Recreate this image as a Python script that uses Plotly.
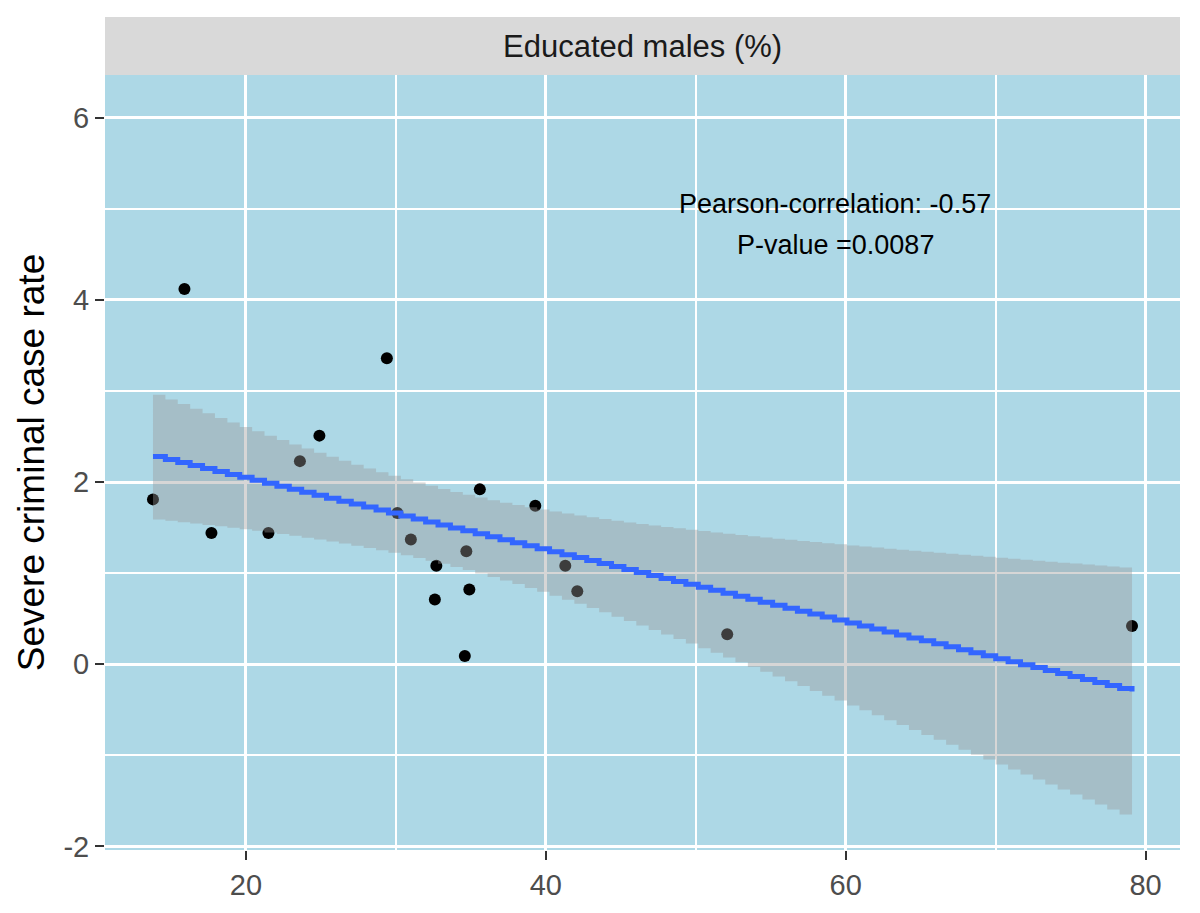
import numpy as np
import plotly.graph_objects as go

# educated males (%) vs severe criminal case rate
educated_pct = [13.8, 15.9, 17.7, 21.5, 23.6, 24.9, 29.4, 30.1, 31.0, 32.6,
                32.7, 34.6, 34.7, 34.9, 35.6, 39.3, 41.3, 42.1, 52.1, 79.1]
crime_rate = [1.81, 4.12, 1.44, 1.44, 2.23, 2.51, 3.36, 1.66, 1.37, 0.71,
              1.08, 0.09, 1.24, 0.82, 1.92, 1.74, 1.08, 0.80, 0.33, 0.42]

x_ticks = [20, 40, 60, 80]
y_ticks = [-2, 0, 2, 4, 6]
y_tick_labels = ["-2", "0", "2", "4", "6"]

x = np.array(educated_pct)
y = np.array(crime_rate)
n = len(x)

# linear fit with 95% confidence band (like geom_smooth(method="lm"))
slope, intercept = np.polyfit(x, y, 1)
resid = y - (slope * x + intercept)
s = np.sqrt(np.sum(resid ** 2) / (n - 2))
t_crit = 2.100922  # t(0.975, df=18)
xs = np.linspace(x.min(), x.max(), 80)
ys = slope * xs + intercept
se = s * np.sqrt(1 / n + (xs - x.mean()) ** 2 / np.sum((x - x.mean()) ** 2))
upper = ys + t_crit * se
lower = ys - t_crit * se

fig = go.Figure()

fig.add_trace(go.Scatter(
    x=educated_pct, y=crime_rate, mode="markers",
    marker=dict(color="black", size=12),
    showlegend=False, hoverinfo="x+y",
))

fig.add_trace(go.Scatter(
    x=np.concatenate([xs, xs[::-1]]), y=np.concatenate([upper, lower[::-1]]),
    mode="lines", line=dict(width=0, shape="hv"),
    fill="toself", fillcolor="rgba(153,153,153,0.4)",
    showlegend=False, hoverinfo="skip",
))

fig.add_trace(go.Scatter(
    x=xs, y=ys, mode="lines",
    line=dict(color="#3366FF", width=5, shape="hv"),
    showlegend=False,
))

fig.add_annotation(x=59.3, y=5.05, text="Pearson-correlation: -0.57", showarrow=False,
                   font=dict(size=27, color="black"))
fig.add_annotation(x=59.3, y=4.6, text="P-value =0.0087", showarrow=False,
                   font=dict(size=27, color="black"))

# facet strip
strip_h = 58 / 775
fig.add_shape(type="rect", xref="paper", yref="paper", x0=0, x1=1, y0=1, y1=1 + strip_h,
              fillcolor="#D9D9D9", line=dict(width=0), layer="below")
fig.add_annotation(xref="paper", yref="paper", x=0.5, y=1 + strip_h / 2,
                   xanchor="center", yanchor="middle",
                   text="Educated males (%)", showarrow=False,
                   font=dict(size=31, color="#1A1A1A"))

fig.update_xaxes(
    range=[10.6, 82.3], tickvals=x_ticks, showgrid=True, gridcolor="white", gridwidth=2.5,
    zeroline=False, ticks="outside", ticklen=9, tickwidth=2, tickcolor="#333333",
    tickfont=dict(size=29, color="#4D4D4D"),
    minor=dict(tickvals=[10, 30, 50, 70], showgrid=True, gridcolor="white", gridwidth=1.5),
)
fig.update_yaxes(
    range=[-2.04, 6.47], tickvals=y_ticks, ticktext=y_tick_labels,
    showgrid=True, gridcolor="white", gridwidth=2.5,
    zeroline=False, ticks="outside", ticklen=9, tickwidth=2, tickcolor="#333333",
    tickfont=dict(size=29, color="#4D4D4D"),
    minor=dict(tickvals=[-1, 1, 3, 5], showgrid=True, gridcolor="white", gridwidth=1.5),
    title=dict(text="Severe criminal case rate", font=dict(size=37, color="black"), standoff=7),
)

fig.update_layout(
    width=1200, height=913,
    margin=dict(l=97, r=28, t=67, b=71, autoexpand=False),
    plot_bgcolor="#ADD8E6", paper_bgcolor="white",
    font=dict(family="Liberation Sans, Arial, sans-serif"),
)

fig.write_html("out.html")
